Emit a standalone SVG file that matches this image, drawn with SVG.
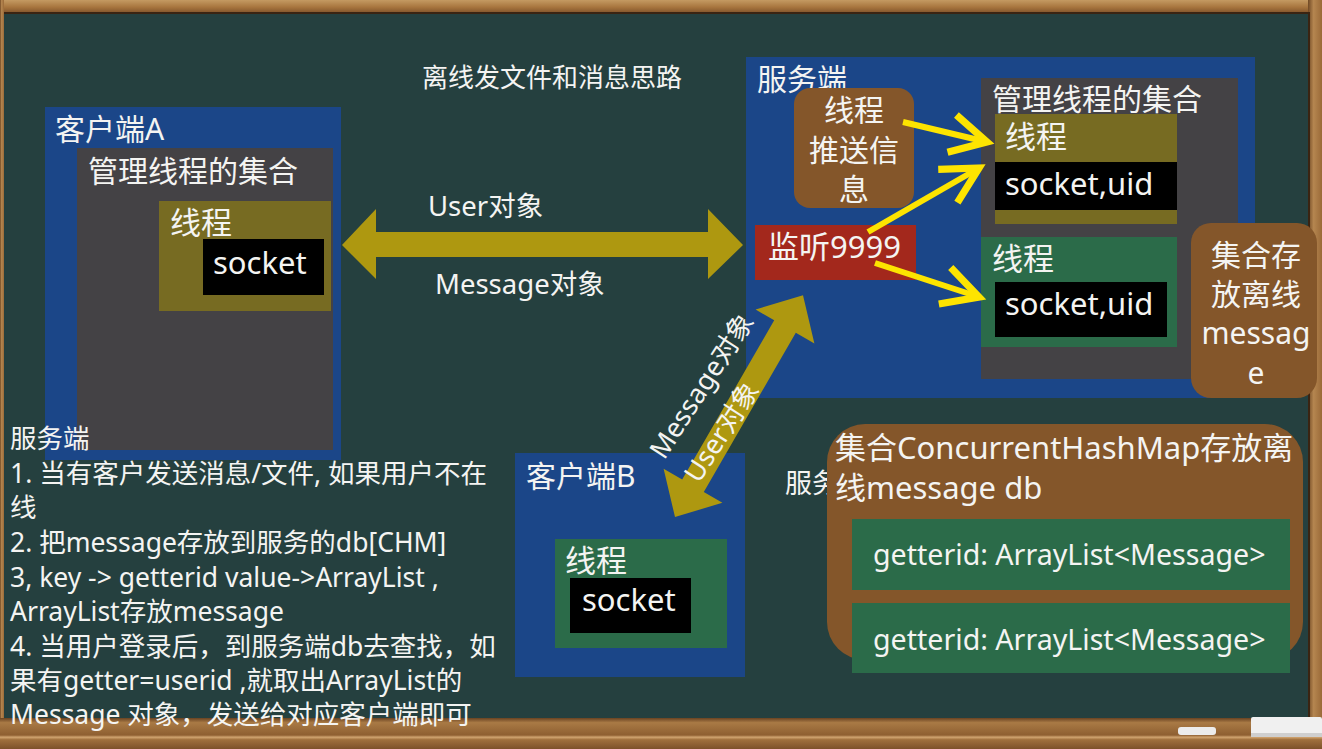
<svg xmlns="http://www.w3.org/2000/svg" width="1322" height="749" viewBox="0 0 1322 749">
<defs>
<style>
text{font-family:"Noto Sans","Noto Sans CJK SC",sans-serif;fill:#f4f4f2;}
.t30{font-size:30px;}
.t31{font-size:31px;}
.t27{font-size:27.5px;}
.note{font-size:26.5px;}
.blue{fill:#1b4688;}
.grey{fill:#444245;}
.olive{fill:#776b22;}
.green{fill:#2b6b49;}
.black{fill:#000;}
.brown{fill:#84562a;}
.red{fill:#a3281c;}
.ylw{stroke:#fde400;stroke-width:6;fill:none;}
</style>
<linearGradient id="woodH" x1="0" y1="0" x2="0" y2="1">
<stop offset="0" stop-color="#c49a62"/>
<stop offset="0.5" stop-color="#a8763f"/>
<stop offset="1" stop-color="#7a4e27"/>
</linearGradient>
<linearGradient id="ledge" x1="0" y1="0" x2="0" y2="1">
<stop offset="0" stop-color="#6a4322"/>
<stop offset="0.15" stop-color="#a97a45"/>
<stop offset="0.55" stop-color="#8e5f31"/>
<stop offset="0.62" stop-color="#d0a470"/>
<stop offset="0.7" stop-color="#a0703d"/>
<stop offset="1" stop-color="#7d512a"/>
</linearGradient>
<linearGradient id="woodV" x1="0" y1="0" x2="1" y2="0">
<stop offset="0" stop-color="#6f4824"/>
<stop offset="0.4" stop-color="#b58650"/>
<stop offset="1" stop-color="#9a6a38"/>
</linearGradient>
<marker id="chev" markerUnits="userSpaceOnUse" orient="auto" refX="0" refY="0" markerWidth="60" markerHeight="60" viewBox="-40 -25 50 50" overflow="visible">
<path d="M-30,-16 L0,0 L-30,16" fill="none" stroke="#fde400" stroke-width="6" stroke-linecap="butt" stroke-linejoin="miter"/>
</marker>
</defs>

<g id="board">
<rect x="0" y="0" width="1322" height="749" fill="#25403f"/>
<rect x="0" y="0" width="1322" height="14" fill="url(#woodH)"/>
<rect x="0" y="12" width="1322" height="2" fill="#3a2412"/>
<rect x="0" y="0" width="4" height="749" fill="url(#woodV)"/>
<rect x="1308" y="0" width="14" height="749" fill="url(#woodV)"/>
<rect x="1308" y="12" width="2" height="708" fill="#3a2412"/>
<rect x="0" y="718" width="1322" height="31" fill="url(#ledge)"/>
<rect x="1178" y="727" width="38" height="8" rx="3" fill="#ececec"/>
<rect x="1251" y="717" width="71" height="20" rx="2" fill="#f0f0f0"/>
<rect x="1251" y="733" width="71" height="4" fill="#cfcfcf"/>
</g>

<g id="title">
<text x="422" y="87" style="font-size:26px">离线发文件和消息思路</text>
</g>

<g id="clientA">
<rect class="blue" x="45" y="107" width="296" height="353"/>
<rect class="grey" x="77" y="148" width="256" height="302"/>
<text class="t30" x="55" y="140">客户端A</text>
<text class="t30" x="88" y="182">管理线程的集合</text>
<rect class="olive" x="159" y="201" width="172" height="110"/>
<text class="t31" x="170" y="234">线程</text>
<rect class="black" x="203" y="239" width="121" height="56"/>
<text class="t31" x="213" y="274">socket</text>
</g>

<g id="clientB">
<rect class="blue" x="515" y="453" width="230" height="224"/>
<text class="t30" x="526" y="487">客户端B</text>
<rect class="green" x="555" y="539" width="172" height="109"/>
<text class="t31" x="565" y="572">线程</text>
<rect class="black" x="570" y="578" width="121" height="55"/>
<text class="t31" x="582" y="611">socket</text>
</g>

<g id="server">
<rect class="blue" x="746" y="57" width="509" height="341"/>
<text class="t30" x="757" y="90">服务端</text>
<rect class="grey" x="981" y="78" width="257" height="301"/>
<text class="t30" x="992" y="110">管理线程的集合</text>
<rect class="olive" x="995" y="114" width="182" height="110"/>
<text class="t31" x="1005" y="148">线程</text>
<rect class="black" x="995" y="162" width="182" height="48"/>
<text class="t31" x="1005" y="195">socket,uid</text>
<rect class="green" x="981" y="237" width="196" height="110"/>
<text class="t31" x="992" y="270">线程</text>
<rect class="black" x="995" y="282" width="172" height="55"/>
<text class="t31" x="1005" y="315">socket,uid</text>
</g>

<g id="pushThread">
<rect class="brown" x="794" y="88" width="120" height="120" rx="16"/>
<text class="t30" x="854" y="121" text-anchor="middle">线程</text>
<text class="t30" x="854" y="161" text-anchor="middle">推送信</text>
<text class="t30" x="854" y="200" text-anchor="middle">息</text>
</g>

<g id="listen">
<rect class="red" x="755" y="225" width="161" height="55"/>
<text class="t31" x="768" y="258">监听9999</text>
</g>

<g id="offlineStore">
<rect class="brown" x="1191" y="223" width="126" height="175" rx="20"/>
<text class="t30" x="1256" y="266" text-anchor="middle">集合存</text>
<text class="t30" x="1256" y="305" text-anchor="middle">放离线</text>
<text class="t30" x="1256" y="344" text-anchor="middle">messag</text>
<text class="t30" x="1256" y="384" text-anchor="middle">e</text>
</g>

<g id="serverNote">
<text x="785" y="493" style="font-size:27px">服务</text>
</g>

<g id="db">
<rect class="brown" x="827" y="424" width="476" height="236" rx="38"/>
<text x="835" y="459" style="font-size:31px">集合ConcurrentHashMap存放离</text>
<text x="835" y="499" style="font-size:31px">线message db</text>
<rect class="green" x="852" y="519" width="438" height="71"/>
<text x="873" y="565" style="font-size:28.6px">getterid: ArrayList&lt;Message&gt;</text>
<rect class="green" x="852" y="603" width="438" height="70"/>
<text x="873" y="650" style="font-size:28.6px">getterid: ArrayList&lt;Message&gt;</text>
</g>

<g id="connectors">
<polygon fill="#ae9810" points="342,245 376,209 376,232 708,232 708,209 743,245 708,279 708,257 376,257 376,279"/>
<polygon fill="#ae9810" points="675,517 722.4,502.8 703.8,492.1 795.8,332.8 814.4,343.5 803,295.3 755.6,309.5 774.2,320.3 682.2,479.6 663.6,468.8"/>
<line class="ylw" x1="903" y1="122" x2="987" y2="142" marker-end="url(#chev)"/>
<line class="ylw" x1="868" y1="232" x2="979" y2="168" marker-end="url(#chev)"/>
<line class="ylw" x1="875" y1="263" x2="979" y2="297" marker-end="url(#chev)"/>
</g>

<g id="labels">
<text class="t27" x="428" y="216">User对象</text>
<text class="t27" x="435" y="294">Message对象</text>
<text x="0" y="9" text-anchor="middle" style="font-size:27px" transform="translate(702,386) rotate(-57)">Message对象</text>
<text x="0" y="9" text-anchor="middle" style="font-size:27px" transform="translate(722,432) rotate(-57)">User对象</text>
</g>

<g id="notes">
<text class="note" x="10" y="448">服务端</text>
<text class="note" x="10" y="483">1. 当有客户发送消息/文件, 如果用户不在</text>
<text class="note" x="10" y="517">线</text>
<text class="note" x="10" y="552">2. 把message存放到服务的db[CHM]</text>
<text class="note" x="10" y="587">3, key -&gt; getterid value-&gt;ArrayList ,</text>
<text class="note" x="10" y="621">ArrayList存放message</text>
<text class="note" x="10" y="656">4. 当用户登录后，到服务端db去查找，如</text>
<text class="note" x="10" y="690">果有getter=userid ,就取出ArrayList的</text>
<text class="note" x="10" y="724">Message 对象，发送给对应客户端即可</text>
</g>
</svg>
